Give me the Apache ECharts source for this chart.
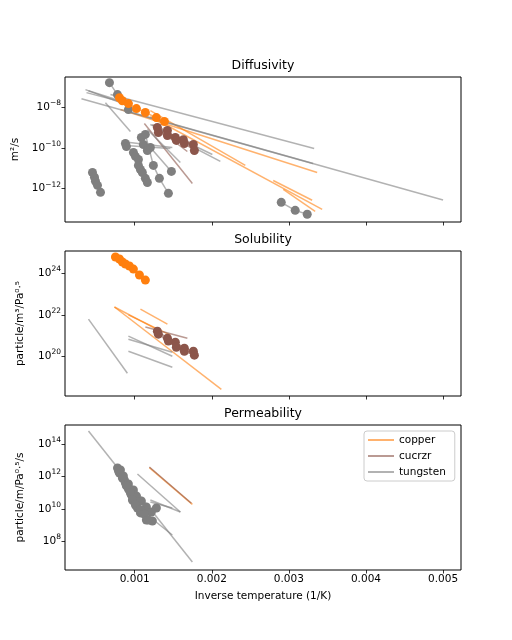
<!DOCTYPE html>
<html>
<head>
<meta charset="utf-8">
<script src="https://cdn.jsdelivr.net/npm/echarts@6/dist/echarts.min.js"></script>
<style>
  html, body { margin: 0; padding: 0; background: #fff; }
  #chart { width: 512px; height: 640px; }
</style>
</head>
<body>
<div id="chart"></div>
<script>
// tick positions
const xTicks = [0.001, 0.002, 0.003, 0.004, 0.005]
const diffTicks = [1e-12, 1e-10, 1e-8]
const solTicks = [1e20, 1e22, 1e24]
const permTicks = [1e8, 1e10, 1e12, 1e14]

// Diffusivity — fitted lines, each [x1, y1, x2, y2]
const diffCopperLines = [
  [0.000815, 7.4e-9, 0.003367, 6.2e-12],
  [0.001203, 6.6e-9, 0.002435, 1.37e-11],
  [0.001203, 3.4e-9, 0.003432, 9.8e-14],
  [0.002797, 2.5e-12, 0.003302, 2.7e-13],
  [0.002927, 9.2e-13, 0.003341, 7.8e-14]
]
const diffCucrzrLines = [
  [0.001125, 1.53e-9, 0.001748, 1.8e-12],
  [0.001229, 1.37e-9, 0.001683, 6.6e-11]
]
const diffTungstenLines = [
  [0.000685, 4.0e-8, 0.003328, 9.3e-11],
  [0.000309, 2.5e-8, 0.005000, 2.8e-13],
  [0.000918, 5.9e-9, 0.003315, 1.7e-11],
  [0.000620, 1.6e-8, 0.000944, 6.2e-10],
  [0.000361, 7.0e-8, 0.000918, 1.16e-8],
  [0.000374, 5.0e-8, 0.000776, 2.0e-8],
  [0.000400, 6.2e-8, 0.000892, 1.6e-8],
  [0.000853, 2.0e-10, 0.001488, 1.03e-10],
  [0.000879, 1.3e-10, 0.001463, 9.3e-11],
  [0.001164, 7.8e-10, 0.001592, 1.9e-11],
  [0.001203, 1.37e-9, 0.002007, 4.7e-11],
  [0.001268, 9.8e-10, 0.002111, 2.15e-11]
]
// Diffusivity — measured points
const diffCopperX = [[0.000802, 0.00084, 0.000918, 0.001022, 0.001138, 0.001281, 0.001385]]
const diffCopperY = [[2.8e-8, 2.0e-8, 1.45e-8, 8.3e-9, 5.3e-9, 3.0e-9, 1.92e-9]]
const diffCucrzrX = [
  [0.001294, 0.001424, 0.001527, 0.001631, 0.001761],
  [0.001307, 0.001424, 0.00154, 0.001644, 0.001774]
]
const diffCucrzrY = [
  [9.8e-10, 7.0e-10, 3.2e-10, 2.5e-10, 1.45e-10],
  [5.6e-10, 4.0e-10, 2.3e-10, 1.62e-10, 7.4e-11]
]
const diffTungstenX = [
  [0.000672, 0.000776, 0.000918],
  [0.000452, 0.000478, 0.000491, 0.000517, 0.000556],
  [0.002901, 0.003082, 0.003238],
  [0.000879, 0.000892],
  [0.001086, 0.001112, 0.001164],
  [0.000983, 0.001009, 0.001048],
  [0.001048, 0.001074, 0.001099, 0.001138, 0.001164],
  [0.001138, 0.001242, 0.00132, 0.001437],
  [0.001203, 0.001476]
]
const diffTungstenY = [
  [1.53e-7, 4.0e-8, 7.4e-9],
  [6.2e-12, 3.6e-12, 2.3e-12, 1.45e-12, 6.6e-13],
  [2.15e-13, 8.7e-14, 5.6e-14],
  [1.62e-10, 1.16e-10],
  [3.2e-10, 1.45e-10, 7.4e-11],
  [5.9e-11, 3.8e-11, 2.7e-11],
  [1.37e-11, 8.7e-12, 6.2e-12, 3.2e-12, 2.0e-12],
  [4.5e-10, 1.37e-11, 3.2e-12, 5.9e-13],
  [1.03e-10, 7.0e-12]
]

// Solubility
const solCopperLines = [
  [0.000737, 2.4e22, 0.002124, 2.65e18],
  [0.001074, 1.9e22, 0.001424, 3.6e21],
  [0.000737, 2.4e22, 0.001307, 1.85e21],
  [0.000918, 1.0e22, 0.001463, 1.06e21]
]
const solCucrzrLines = [
  [0.001138, 2.6e21, 0.001683, 7.6e20]
]
const solTungstenLines = [
  [0.000400, 6.3e21, 0.000905, 1.57e19],
  [0.000918, 9.5e20, 0.001488, 1.03e20],
  [0.000918, 6.8e20, 0.001488, 1.6e20],
  [0.000918, 1.8e20, 0.001488, 3.05e19]
]
const solCopperX = [[0.00075, 0.000802, 0.00084, 0.000879, 0.000931, 0.000983, 0.001061, 0.001138]]
const solCopperY = [[6.1e24, 4.9e24, 3.5e24, 2.8e24, 2.25e24, 1.6e24, 8.3e23, 4.75e23]]
const solCucrzrX = [
  [0.001294, 0.001424, 0.001527, 0.001644, 0.001761],
  [0.001307, 0.001437, 0.00154, 0.001644, 0.001774]
]
const solCucrzrY = [
  [1.66e21, 7.6e20, 4.9e20, 2.5e20, 1.8e20],
  [1.19e21, 5.5e20, 2.8e20, 1.8e20, 1.16e20]
]

// Permeability
const permCopperLines = [[0.00119, 3.46e12, 0.001748, 1.9e10]]
const permCucrzrLines = [[0.00119, 3.8e12, 0.001735, 2.2e10]]
const permTungstenLines = [
  [0.000400, 6.3e14, 0.001748, 5.3e6],
  [0.001035, 1.41e12, 0.001592, 6.4e9],
  [0.001203, 3.5e10, 0.001592, 6.4e9],
  [0.001203, 2.65e10, 0.001488, 1.13e10],
  [0.001164, 4.2e9, 0.001488, 2.45e8]
]
const permTungstenX = [
  [0.000777, 0.000802, 0.00084, 0.000879, 0.000918, 0.000957, 0.000996, 0.001035, 0.001074, 0.001151, 0.001229],
  [0.000815, 0.000866, 0.000918, 0.000983, 0.001022, 0.001086, 0.001151, 0.001216, 0.001281],
  [0.00079, 0.000853, 0.000892, 0.000944, 0.00097, 0.001009, 0.001074, 0.001125, 0.001177]
]
const permTungstenY = [
  [3.3e12, 1.63e12, 8.0e11, 3.9e11, 1.68e11, 7.2e10, 2.65e10, 1.13e10, 5.6e9, 2.06e9, 1.79e9],
  [2.5e12, 6.0e11, 3.4e11, 1.46e11, 6.2e10, 3.06e10, 1.31e10, 6.4e9, 1.13e10],
  [2.16e12, 1.06e12, 2.6e11, 9.5e10, 3.5e10, 1.73e10, 8.5e9, 4.8e9, 2.06e9]
]

const FONT = 'DejaVu Sans'
const lineColor = {
  copper: 'rgba(255,127,14,0.6)',
  cucrzr: 'rgba(140,86,75,0.6)',
  tungsten: 'rgba(127,127,127,0.6)'
}
const dotColor = { copper: '#ff7f0e', cucrzr: '#8c564b', tungsten: '#7f7f7f' }

const chart = echarts.init(document.getElementById('chart'), null, { renderer: 'canvas' })

const sci = v => {
  const e = Math.round(Math.log10(v))
  return '{b|10}{s|' + (e < 0 ? '\u2212' : '') + Math.abs(e) + '}'
}

const panelTops = [77, 251, 425]
const yRanges = [[2.34e-14, 2.904e-7], [1.259e18, 1.189e25], [1.70e6, 1.479e15]]
const yTickSets = [diffTicks, solTicks, permTicks]
const yNames = ['m²/s', 'particle/m³/Pa⁰·⁵', 'particle/m/Pa⁰·⁵/s']
const yNameGaps = [40, 39, 39]
const titles = ['Diffusivity', 'Solubility', 'Permeability']

const grid = panelTops.map(t => ({
  left: 65, top: t, width: 396, height: 145,
  show: true, borderColor: '#000', borderWidth: 1, backgroundColor: 'transparent'
}))

const xAxis = panelTops.map((t, i) => ({
  type: 'value', gridIndex: i, min: 0.0000955, max: 0.005233,
  axisLine: { show: false },
  axisTick: { show: true, length: 3.5, customValues: xTicks, lineStyle: { color: '#000', width: 0.8 } },
  axisLabel: {
    show: i === 2, customValues: xTicks, margin: 4,
    fontFamily: FONT, fontSize: 10.5, color: '#000',
    formatter: v => v.toFixed(3)
  },
  splitLine: { show: false },
  name: i === 2 ? 'Inverse temperature (1/K)' : '',
  nameLocation: 'middle', nameGap: 21,
  nameTextStyle: { fontFamily: FONT, fontSize: 10.5, color: '#000' }
}))

const yAxis = panelTops.map((t, i) => ({
  type: 'log', logBase: 10, gridIndex: i, min: yRanges[i][0], max: yRanges[i][1],
  axisLine: { show: false },
  axisTick: { show: true, length: 3.5, customValues: yTickSets[i], lineStyle: { color: '#000', width: 0.8 } },
  axisLabel: {
    customValues: yTickSets[i], margin: 4, formatter: sci,
    rich: {
      b: { fontFamily: FONT, fontSize: 10.5, color: '#000', lineHeight: 16, verticalAlign: 'middle' },
      s: { fontFamily: FONT, fontSize: 7.5, color: '#000', lineHeight: 8, verticalAlign: 'top' }
    }
  },
  splitLine: { show: false },
  minorTick: { show: false },
  name: yNames[i], nameLocation: 'middle', nameRotate: 90, nameGap: yNameGaps[i],
  nameTextStyle: { fontFamily: FONT, fontSize: 10.5, color: '#000' }
}))

const segSeries = (list, mat, gi) => list.map(s => ({
  type: 'line', name: mat, xAxisIndex: gi, yAxisIndex: gi,
  data: [[s[0], s[1]], [s[2], s[3]]],
  symbol: 'none', silent: true, z: 2,
  lineStyle: { color: lineColor[mat], width: 1.5 },
  itemStyle: { color: lineColor[mat] }
}))

const dotSeries = (xs, ys, mat, gi) => xs.map((row, k) => ({
  type: 'line', name: mat + ' data', xAxisIndex: gi, yAxisIndex: gi,
  data: row.map((x, j) => [x, ys[k][j]]),
  symbol: 'circle', symbolSize: 9, showSymbol: true, silent: true, z: 3,
  lineStyle: { color: lineColor[mat], width: 1.5 },
  itemStyle: { color: dotColor[mat] }
}))

const series = [
  ...segSeries(diffCopperLines, 'copper', 0),
  ...segSeries(diffCucrzrLines, 'cucrzr', 0),
  ...segSeries(diffTungstenLines, 'tungsten', 0),
  ...segSeries(solCopperLines, 'copper', 1),
  ...segSeries(solCucrzrLines, 'cucrzr', 1),
  ...segSeries(solTungstenLines, 'tungsten', 1),
  ...segSeries(permCopperLines, 'copper', 2),
  ...segSeries(permCucrzrLines, 'cucrzr', 2),
  ...segSeries(permTungstenLines, 'tungsten', 2),
  ...dotSeries(diffTungstenX, diffTungstenY, 'tungsten', 0),
  ...dotSeries(diffCopperX, diffCopperY, 'copper', 0),
  ...dotSeries(diffCucrzrX, diffCucrzrY, 'cucrzr', 0),
  ...dotSeries(solCopperX, solCopperY, 'copper', 1),
  ...dotSeries(solCucrzrX, solCucrzrY, 'cucrzr', 1),
  ...dotSeries(permTungstenX, permTungstenY, 'tungsten', 2)
]

const option = {
  animation: false,
  backgroundColor: '#fff',
  graphic: titles.map((t, i) => ({
    type: 'text', x: 263, y: panelTops[i] - 11,
    style: { text: t, fill: '#000', font: '12.5px "DejaVu Sans"', align: 'center', verticalAlign: 'middle' }
  })),
  legend: {
    data: ['copper', 'cucrzr', 'tungsten'],
    orient: 'vertical', left: 364, top: 431,
    icon: 'rect', itemWidth: 26, itemHeight: 2, itemGap: 4,
    padding: [3, 9, 3, 4],
    borderColor: '#cccccc', borderWidth: 1, borderRadius: 3,
    backgroundColor: 'rgba(255,255,255,0.8)',
    selectedMode: false,
    textStyle: { fontFamily: FONT, fontSize: 10.5, color: '#000', lineHeight: 12 }
  },
  grid,
  xAxis,
  yAxis,
  series
}

chart.setOption(option)
</script>
</body>
</html>
